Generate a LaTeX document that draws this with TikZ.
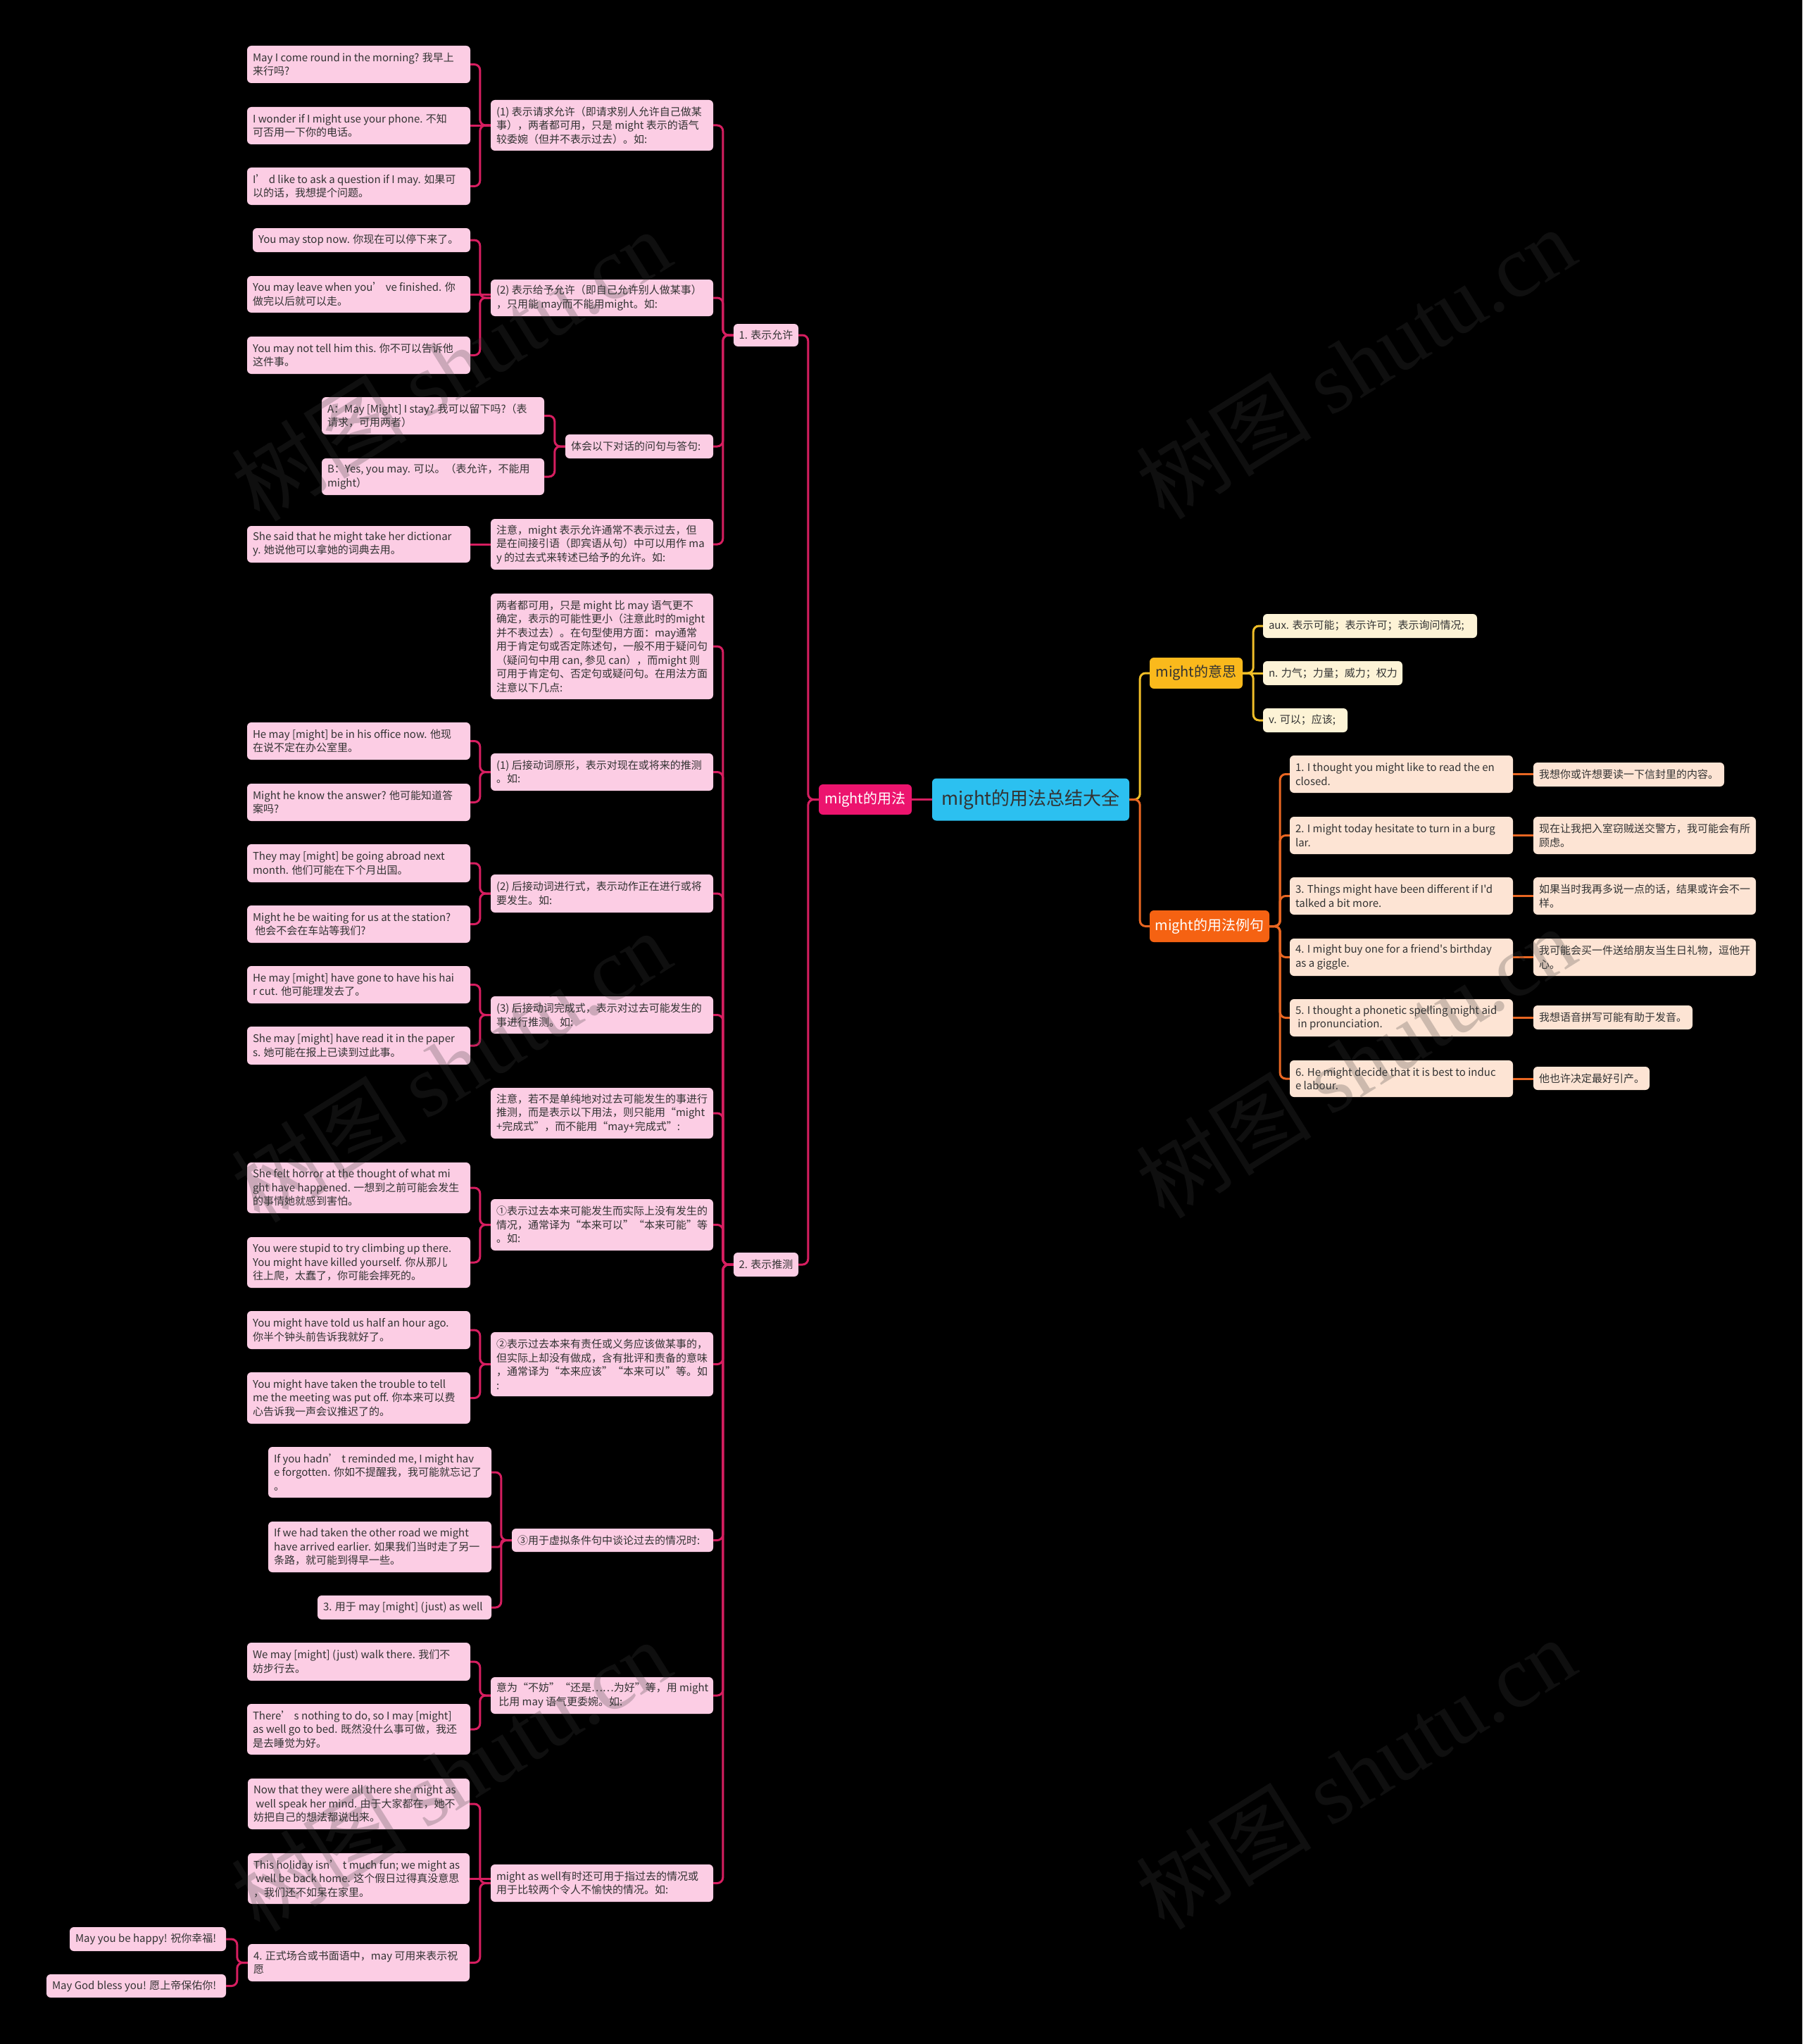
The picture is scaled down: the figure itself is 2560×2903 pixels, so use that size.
\documentclass[tikz,border=0pt]{standalone}
\usepackage{fontspec}
\setmainfont{Noto Sans CJK SC}
\newfontfamily\cjkplain{Noto Sans CJK SC}
\newfontfamily\wmlatin{Liberation Serif}
\usetikzlibrary{calc}
\definecolor{pinkline}{RGB}{214,30,96}
\definecolor{pinkfill}{RGB}{252,205,228}
\definecolor{hotpink}{RGB}{236,20,110}
\definecolor{rootblue}{RGB}{44,192,240}
\definecolor{amber}{RGB}{250,185,28}
\definecolor{amberline}{RGB}{240,190,40}
\definecolor{cream}{RGB}{253,243,214}
\definecolor{orangeN}{RGB}{245,98,18}
\definecolor{orangeline}{RGB}{232,102,34}
\definecolor{peach}{RGB}{253,228,212}
\definecolor{txt}{RGB}{51,51,51}
\definecolor{wmgray}{RGB}{60,60,60}
\tikzset{
  boxbase/.style={rectangle, rounded corners=6pt, inner sep=0pt, draw=none},
  pbox/.style={boxbase, fill=pinkfill},
  ybox/.style={boxbase, fill=cream},
  obox/.style={boxbase, fill=peach},
  pbox text/.style={inner sep=0pt, align=left, text=txt, font=\cjkplain\fontsize{15}{19.5}\selectfont},
  ybox text/.style={pbox text},
  obox text/.style={pbox text},
  pline/.style={draw=pinkline, line width=3pt, rounded corners=8pt},
  yline/.style={draw=amberline, line width=3pt, rounded corners=8pt},
  oline/.style={draw=orangeline, line width=3pt, rounded corners=8pt},
  wm/.style={text=wmgray, text opacity=0.25, inner sep=0pt, rotate=32, font=\fontsize{125}{125}\selectfont},
}
% box with left-aligned text: style, name, x1, y1, x2, y2, text
\newcommand\bx[7]{%
  \node[#1, minimum width={(#5-#3)*1pt}, minimum height={(#6-#4)*1pt}] (#2) at ({(#3+#5)/2},{(#4+#6)/2}) {};
  \node[#1 text, anchor=west] (#2-t) at ([xshift=8pt]#2.west) {#7};
}
% connectors
\newcommand\lconn[3]{\draw[#1] (#2.west) -- ([xshift=-15pt]#2.west) |- (#3.east);}
\newcommand\rconn[3]{\draw[#1] (#2.east) -- ([xshift=15pt]#2.east) |- (#3.west);}
\newcommand\lstraight[3]{\draw[#1] (#3.east) -- (#2.west |- #3.east);}
\newcommand\rstraight[3]{\draw[#1] (#3.west) -- (#2.east |- #3.west);}
\begin{document}
\begin{tikzpicture}[x=1pt, y=-1pt]
\useasboundingbox (0,0) rectangle (2560,2903);
\fill[black] (0,0) rectangle (2560,2903);

% ---------- central nodes ----------
\node[boxbase, fill=rootblue, minimum width=280pt, minimum height=60pt, text=txt, font=\cjkplain\fontsize{26}{30}\selectfont] (root) at (1464,1135.5) {might的用法总结大全};
\node[boxbase, fill=hotpink, minimum width=132pt, minimum height=43pt, text=white, font=\cjkplain\fontsize{20}{24}\selectfont] (use) at (1229,1135.5) {might的用法};
\node[boxbase, fill=amber, minimum width=132pt, minimum height=44pt, text=txt, font=\cjkplain\fontsize{20}{24}\selectfont] (mean) at (1699,956) {might的意思};
\node[boxbase, fill=orangeN, minimum width=170pt, minimum height=45pt, text=white, font=\cjkplain\fontsize{20}{24}\selectfont] (exs) at (1718,1315.5) {might的用法例句};
\node[pbox, minimum width=92pt, minimum height=32pt, text=txt, font=\cjkplain\fontsize{15}{18}\selectfont] (perm) at (1088,476) {1. 表示允许};
\node[pbox, minimum width=92pt, minimum height=34pt, text=txt, font=\cjkplain\fontsize{15}{18}\selectfont] (spec) at (1088,1796) {2. 表示推测};

% ---------- 1. 表示允许 ----------
\bx{pbox}{m11}{697}{142}{1013}{214}{(1) 表示请求允许（即请求别人允许自己做某\\事），两者都可用，只是 might 表示的语气\\较委婉（但并不表示过去）。如:}
\bx{pbox}{l111}{351}{65}{668}{118}{May I come round in the morning? 我早上\\来行吗?}
\bx{pbox}{l112}{351}{152}{668}{205}{I wonder if I might use your phone. 不知\\可否用一下你的电话。}
\bx{pbox}{l113}{351}{238}{668}{291}{I’ d like to ask a question if I may. 如果可\\以的话，我想提个问题。}
\bx{pbox}{m12}{697}{397}{1013}{449}{(2) 表示给予允许（即自己允许别人做某事）\\，只用能 may而不能用might。如:}
\bx{pbox}{l121}{359}{324}{668}{358}{You may stop now. 你现在可以停下来了。}
\bx{pbox}{l122}{351}{392}{668}{444}{You may leave when you’ ve finished. 你\\做完以后就可以走。}
\bx{pbox}{l123}{351}{478}{668}{531}{You may not tell him this. 你不可以告诉他\\这件事。}
\bx{pbox}{m13}{803}{617}{1013}{651}{体会以下对话的问句与答句:}
\bx{pbox}{l131}{457}{564}{773}{617}{A：May [Might] I stay? 我可以留下吗?（表\\请求，可用两者）}
\bx{pbox}{l132}{457}{651}{773}{703}{B：Yes, you may. 可以。（表允许，不能用\\might）}
\bx{pbox}{m14}{697}{737}{1013}{809}{注意，might 表示允许通常不表示过去，但\\是在间接引语（即宾语从句）中可以用作 ma\\y 的过去式来转述已给予的允许。如:}
\bx{pbox}{l141}{351}{747}{668}{799}{She said that he might take her dictionar\\y. 她说他可以拿她的词典去用。}

% ---------- 2. 表示推测 ----------
\bx{pbox}{m21}{697}{843}{1013}{993}{两者都可用，只是 might 比 may 语气更不\\确定，表示的可能性更小（注意此时的might\\并不表过去）。在句型使用方面：may通常\\用于肯定句或否定陈述句，一般不用于疑问句\\（疑问句中用 can, 参见 can），而might 则\\可用于肯定句、否定句或疑问句。在用法方面\\注意以下几点:}
\bx{pbox}{m22}{697}{1070}{1013}{1123}{(1) 后接动词原形，表示对现在或将来的推测\\。如:}
\bx{pbox}{l221}{351}{1026}{668}{1079}{He may [might] be in his office now. 他现\\在说不定在办公室里。}
\bx{pbox}{l222}{351}{1113}{668}{1166}{Might he know the answer? 他可能知道答\\案吗?}
\bx{pbox}{m23}{697}{1242}{1013}{1296}{(2) 后接动词进行式，表示动作正在进行或将\\要发生。如:}
\bx{pbox}{l231}{351}{1199}{668}{1253}{They may [might] be going abroad next\\month. 他们可能在下个月出国。}
\bx{pbox}{l232}{351}{1286}{668}{1339}{Might he be waiting for us at the station?\\ \ 他会不会在车站等我们?}
\bx{pbox}{m24}{697}{1415}{1013}{1468}{(3) 后接动词完成式，表示对过去可能发生的\\事进行推测。如:}
\bx{pbox}{l241}{351}{1372}{668}{1425}{He may [might] have gone to have his hai\\r cut. 他可能理发去了。}
\bx{pbox}{l242}{351}{1458}{668}{1512}{She may [might] have read it in the paper\\s. 她可能在报上已读到过此事。}
\bx{pbox}{m25}{697}{1545}{1013}{1617}{注意，若不是单纯地对过去可能发生的事进行\\推测，而是表示以下用法，则只能用“might\\+完成式”，而不能用“may+完成式”:}
\bx{pbox}{m26}{697}{1703}{1013}{1776}{①表示过去本来可能发生而实际上没有发生的\\情况，通常译为“本来可以”“本来可能”等\\。如:}
\bx{pbox}{l261}{351}{1651}{668}{1723}{She felt horror at the thought of what mi\\ght have happened. 一想到之前可能会发生\\的事情她就感到害怕。}
\bx{pbox}{l262}{351}{1757}{668}{1829}{You were stupid to try climbing up there.\\You might have killed yourself. 你从那儿\\往上爬，太蠢了，你可能会摔死的。}
\bx{pbox}{m27}{697}{1892}{1013}{1983}{②表示过去本来有责任或义务应该做某事的，\\但实际上却没有做成，含有批评和责备的意味\\，通常译为“本来应该”“本来可以”等。如\\:}
\bx{pbox}{l271}{351}{1862}{668}{1916}{You might have told us half an hour ago.\\你半个钟头前告诉我就好了。}
\bx{pbox}{l272}{351}{1949}{668}{2022}{You might have taken the trouble to tell\\me the meeting was put off. 你本来可以费\\心告诉我一声会议推迟了的。}
\bx{pbox}{m28}{727}{2171}{1013}{2204}{③用于虚拟条件句中谈论过去的情况时:}
\bx{pbox}{l281}{381}{2055}{698}{2127}{If you hadn’ t reminded me, I might hav\\e forgotten. 你如不提醒我，我可能就忘记了\\。}
\bx{pbox}{l282}{381}{2161}{698}{2233}{If we had taken the other road we might\\have arrived earlier. 如果我们当时走了另一\\条路，就可能到得早一些。}
\bx{pbox}{l283}{451}{2266}{698}{2300}{3. 用于 may [might] (just) as well}
\bx{pbox}{m29}{697}{2382}{1013}{2434}{意为“不妨”“还是……为好”等，用 might\\ \ 比用 may 语气更委婉。如:}
\bx{pbox}{l291}{351}{2333}{668}{2387}{We may [might] (just) walk there. 我们不\\妨步行去。}
\bx{pbox}{l292}{351}{2420}{668}{2492}{There’ s nothing to do, so I may [might]\\as well go to bed. 既然没什么事可做，我还\\是去睡觉为好。}
\bx{pbox}{m2a}{697}{2648}{1013}{2701}{might as well有时还可用于指过去的情况或\\用于比较两个令人不愉快的情况。如:}
\bx{pbox}{l2a1}{352}{2526}{667}{2598}{Now that they were all there she might as\\ \ well speak her mind. 由于大家都在，她不\\妨把自己的想法都说出来。}
\bx{pbox}{l2a2}{352}{2632}{667}{2704}{This holiday isn’ t much fun; we might as\\ \ well be back home. 这个假日过得真没意思\\，我们还不如呆在家里。}
\bx{pbox}{l2a3}{352}{2761}{667}{2814}{4. 正式场合或书面语中，may 可用来表示祝\\愿}
\bx{pbox}{l2a31}{99}{2737}{321}{2771}{May you be happy! 祝你幸福!}
\bx{pbox}{l2a32}{66}{2804}{321}{2837}{May God bless you! 愿上帝保佑你!}

% ---------- right: meanings ----------
\bx{ybox}{y1}{1794}{872}{2098}{906}{aux. 表示可能；表示许可；表示询问情况;}
\bx{ybox}{y2}{1794}{939}{1992}{973}{n. 力气；力量；威力；权力}
\bx{ybox}{y3}{1794}{1006}{1914}{1040}{v. 可以；应该;}

% ---------- right: examples ----------
\bx{obox}{e1}{1832}{1073}{2149}{1126}{1. I thought you might like to read the en\\closed.}
\bx{obox}{t1}{2178}{1083}{2449}{1117}{我想你或许想要读一下信封里的内容。}
\bx{obox}{e2}{1832}{1160}{2149}{1213}{2. I might today hesitate to turn in a burg\\lar.}
\bx{obox}{t2}{2178}{1160}{2494}{1213}{现在让我把入室窃贼送交警方，我可能会有所\\顾虑。}
\bx{obox}{e3}{1832}{1246}{2149}{1299}{3. Things might have been different if I'd\\talked a bit more.}
\bx{obox}{t3}{2178}{1246}{2494}{1299}{如果当时我再多说一点的话，结果或许会不一\\样。}
\bx{obox}{e4}{1832}{1333}{2149}{1386}{4. I might buy one for a friend's birthday\\as a giggle.}
\bx{obox}{t4}{2178}{1333}{2494}{1386}{我可能会买一件送给朋友当生日礼物，逗他开\\心。}
\bx{obox}{e5}{1832}{1419}{2149}{1472}{5. I thought a phonetic spelling might aid\\ \ in pronunciation.}
\bx{obox}{t5}{2178}{1428}{2404}{1462}{我想语音拼写可能有助于发音。}
\bx{obox}{e6}{1832}{1506}{2149}{1558}{6. He might decide that it is best to induc\\e labour.}
\bx{obox}{t6}{2178}{1515}{2343}{1548}{他也许决定最好引产。}

% ---------- connectors ----------
\draw[pline] (use.east) -- (root.west);
\lconn{pline}{use}{perm}
\lconn{pline}{use}{spec}
\lconn{pline}{perm}{m11}
\lconn{pline}{perm}{m12}
\lconn{pline}{perm}{m13}
\lconn{pline}{perm}{m14}
\lconn{pline}{m11}{l111}
\lstraight{pline}{m11}{l112}
\lconn{pline}{m11}{l113}
\lconn{pline}{m12}{l121}
\lstraight{pline}{m12}{l122}
\lconn{pline}{m12}{l123}
\lconn{pline}{m13}{l131}
\lconn{pline}{m13}{l132}
\lstraight{pline}{m14}{l141}
\lconn{pline}{spec}{m21}
\lconn{pline}{spec}{m22}
\lconn{pline}{spec}{m23}
\lconn{pline}{spec}{m24}
\lconn{pline}{spec}{m25}
\lconn{pline}{spec}{m26}
\lconn{pline}{spec}{m27}
\lconn{pline}{spec}{m28}
\lconn{pline}{spec}{m29}
\lconn{pline}{spec}{m2a}
\lconn{pline}{m22}{l221}
\lconn{pline}{m22}{l222}
\lconn{pline}{m23}{l231}
\lconn{pline}{m23}{l232}
\lconn{pline}{m24}{l241}
\lconn{pline}{m24}{l242}
\lconn{pline}{m26}{l261}
\lconn{pline}{m26}{l262}
\lconn{pline}{m27}{l271}
\lconn{pline}{m27}{l272}
\lconn{pline}{m28}{l281}
\lconn{pline, rounded corners=4pt}{m28}{l282}
\lconn{pline}{m28}{l283}
\lconn{pline}{m29}{l291}
\lconn{pline}{m29}{l292}
\lconn{pline}{m2a}{l2a1}
\lstraight{pline}{m2a}{l2a2}
\lconn{pline}{m2a}{l2a3}
\lconn{pline}{l2a3}{l2a31}
\lconn{pline}{l2a3}{l2a32}

\rconn{yline}{root}{mean}
\rconn{oline}{root}{exs}
\rconn{yline}{mean}{y1}
\rstraight{yline}{mean}{y2}
\rconn{yline}{mean}{y3}
\rconn{oline}{exs}{e1}
\rconn{oline}{exs}{e2}
\rconn{oline}{exs}{e3}
\rconn{oline}{exs}{e4}
\rconn{oline}{exs}{e5}
\rconn{oline}{exs}{e6}
\draw[oline] (e1.east) -- (t1.west |- e1.east);
\draw[oline] (e2.east) -- (t2.west);
\draw[oline] (e3.east) -- (t3.west);
\draw[oline] (e4.east) -- (t4.west);
\draw[oline] (e5.east) -- (t5.west |- e5.east);
\draw[oline] (e6.east) -- (t6.west |- e6.east);

% ---------- watermarks ----------
\node[wm] (wm1) at (640,518) {树图 {\wmlatin shutu.cn}};
\node[wm] (wm2) at (1925,515) {树图 {\wmlatin shutu.cn}};
\node[wm] (wm3) at (640,1514) {树图 {\wmlatin shutu.cn}};
\node[wm] (wm4) at (1925,1508) {树图 {\wmlatin shutu.cn}};
\node[wm] (wm5) at (640,2521) {树图 {\wmlatin shutu.cn}};
\node[wm] (wm6) at (1925,2518) {树图 {\wmlatin shutu.cn}};
\end{tikzpicture}
\end{document}
